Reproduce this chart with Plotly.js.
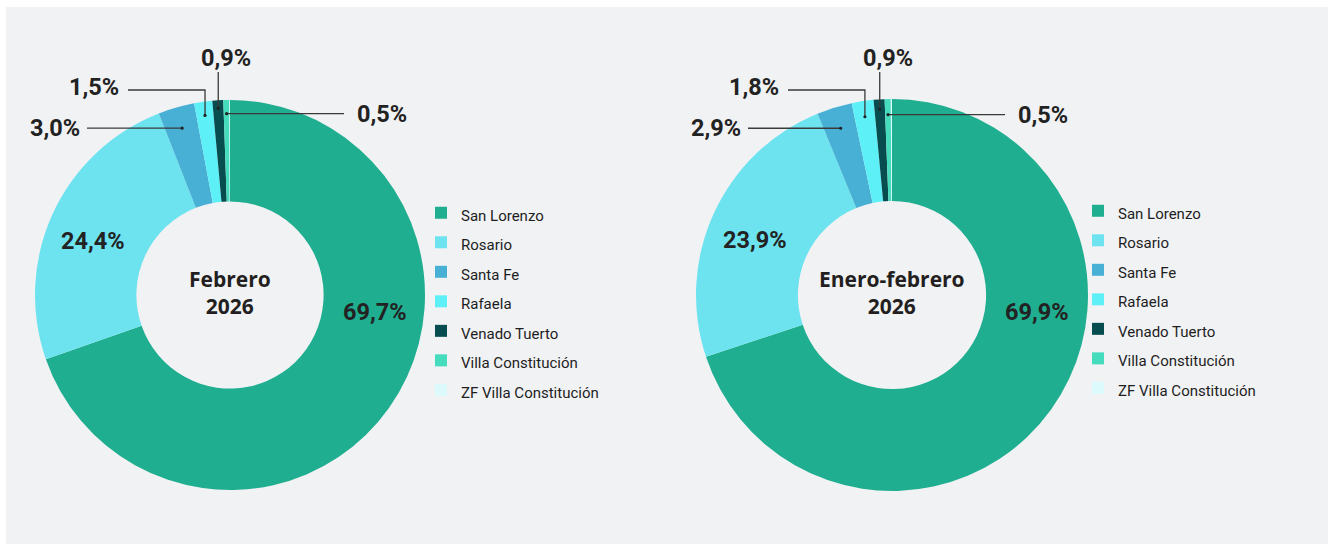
<!DOCTYPE html>
<html>
<head>
<meta charset="utf-8">
<script src="https://cdn.plot.ly/plotly-3.0.1.min.js"></script>
<style>
  html, body { margin: 0; padding: 0; background: #ffffff; }
  #chart { width: 1328px; height: 544px; }
</style>
</head>
<body>
<div id="chart"></div>
<script>
// datos
var categorias = ["San Lorenzo", "Rosario", "Santa Fe", "Rafaela", "Venado Tuerto", "Villa Constitución", "ZF Villa Constitución"];
var colores = ["#1fae8f", "#6de3ef", "#48b0d5", "#5ef0f7", "#074d50", "#45dbbd", "#dcfafc"];
var febrero = [69.7, 24.4, 3.0, 1.5, 0.9, 0.5, 0.05];
var eneroFebrero = [69.9, 23.9, 2.9, 1.8, 0.9, 0.5, 0.1];
var titulos = ["Febrero<br>2026", "Enero-febrero<br>2026"];

var W = 1328, H = 544;
function px(x) { return x / W; }
function py(y) { return 1 - y / H; }
function fmt(v) { return v.toFixed(1).replace(".", ",") + "%"; }

// posicion de cada torta (pixeles)
var tortas = [
  { cx: 230, cy: 295, r: 195, valores: febrero, letra: "15px",
    adentro: [[375, 312], [93, 241]],
    guias: [
      { i: 2, rf: 0.89, tipo: "izq", finX: 87 },
      { i: 3, rf: 0.93, tipo: "arribaIzq", codoY: 90, finX: 128 },
      { i: 4, rf: 0.96, tipo: "arriba", finY: 72 },
      { i: 5, rf: 0.93, tipo: "der", finX: 344 }
    ] },
  { cx: 892, cy: 295, r: 196, valores: eneroFebrero, letra: "15.01px",
    adentro: [[1037, 312], [755, 240]],
    guias: [
      { i: 2, rf: 0.89, tipo: "izq", finX: 748 },
      { i: 3, rf: 0.92, tipo: "arribaIzq", codoY: 90, finX: 788 },
      { i: 4, rf: 0.95, tipo: "arriba", finY: 72 },
      { i: 5, rf: 0.92, tipo: "der", finX: 1005 }
    ] }
];

function anguloMedio(vals, i) {
  var total = vals.reduce(function(a, b) { return a + b; }, 0);
  var antes = 0;
  for (var k = 0; k < i; k++) antes += vals[k];
  return (antes + vals[i] / 2) / total * 2 * Math.PI;
}

var data = [];
var shapes = [{
  type: "rect", xref: "paper", yref: "paper", layer: "below",
  x0: px(6), x1: 1, y0: 0, y1: py(7),
  fillcolor: "#f1f2f4", line: { width: 0 }
}];
var annotations = [];
var fuenteNum = { family: "Roboto, sans-serif", size: 23.5, color: "#222222", weight: 700 };
var colorGuia = "#3a3a3a";

tortas.forEach(function(t, n) {
  data.push({
    type: "pie",
    // etiquetas con estilo distinto por torta para que cada leyenda muestre sus items
    labels: categorias.map(function(c) { return '<span style="font-size:' + t.letra + '">' + c + '</span>'; }),
    values: t.valores,
    marker: { colors: colores, line: { width: 0 } },
    hole: 0.48,
    sort: false,
    direction: "clockwise",
    rotation: 0,
    textinfo: "none",
    hoverinfo: "label+percent",
    domain: { x: [px(t.cx - t.r), px(t.cx + t.r)], y: [py(t.cy + t.r), py(t.cy - t.r)] },
    legend: n === 0 ? "legend" : "legend2"
  });

  // texto central
  annotations.push({
    xref: "paper", yref: "paper", x: px(t.cx), y: py(t.cy - 3),
    text: titulos[n], showarrow: false, xanchor: "center", yanchor: "middle",
    font: { family: "Open Sans, sans-serif", size: 21, color: "#231f20", weight: 700 }
  });

  // porcentajes dentro
  t.adentro.forEach(function(p, i) {
    annotations.push({
      xref: "paper", yref: "paper", x: px(p[0]), y: py(p[1]),
      text: fmt(t.valores[i]), showarrow: false, xanchor: "center", yanchor: "middle",
      font: fuenteNum
    });
  });

  // porcentajes con lineas guia
  t.guias.forEach(function(g) {
    var a = anguloMedio(t.valores, g.i);
    var dx = t.cx + t.r * g.rf * Math.sin(a);
    var dy = t.cy - t.r * g.rf * Math.cos(a);
    var puntos, tx, ty, xa;
    if (g.tipo === "izq") {
      puntos = [[dx, dy], [g.finX, dy]];
      tx = g.finX - 5; ty = dy; xa = "right";
    } else if (g.tipo === "arribaIzq") {
      puntos = [[dx, dy], [dx, g.codoY], [g.finX, g.codoY]];
      tx = g.finX - 7; ty = g.codoY - 3; xa = "right";
    } else if (g.tipo === "arriba") {
      puntos = [[dx, dy], [dx, g.finY]];
      tx = dx + 8; ty = g.finY - 14; xa = "center";
    } else {
      puntos = [[dx, dy], [g.finX, dy]];
      tx = g.finX + 11; ty = dy; xa = "left";
    }
    var path = puntos.map(function(p, k) {
      return (k === 0 ? "M" : "L") + px(p[0]) + "," + py(p[1]);
    }).join(" ");
    shapes.push({ type: "path", xref: "paper", yref: "paper", path: path,
      line: { color: colorGuia, width: 1.3 } });
    shapes.push({ type: "circle", xref: "paper", yref: "paper",
      x0: px(dx - 1.6), x1: px(dx + 1.6), y0: py(dy + 1.6), y1: py(dy - 1.6),
      fillcolor: "#222", line: { width: 0 } });
    annotations.push({
      xref: "paper", yref: "paper", x: px(tx), y: py(ty),
      text: fmt(t.valores[g.i]), showarrow: false, xanchor: xa, yanchor: "middle",
      font: fuenteNum
    });
  });
});

var leyenda = function(x, y) {
  return {
    x: px(x), y: py(y), xanchor: "left", yanchor: "top",
    bgcolor: "rgba(0,0,0,0)", borderwidth: 0,
    font: { family: "Roboto, sans-serif", size: 20.4, color: "#1e1e1e" },
    itemclick: false, itemdoubleclick: false
  };
};

var layout = {
  width: W, height: H,
  margin: { l: 0, r: 0, t: 0, b: 0 },
  paper_bgcolor: "#ffffff",
  plot_bgcolor: "rgba(0,0,0,0)",
  showlegend: true,
  legend: leyenda(421, 193),
  legend2: leyenda(1078, 191),
  shapes: shapes,
  annotations: annotations
};

Plotly.newPlot("chart", data, layout, { displayModeBar: false, staticPlot: true });
</script>
</body>
</html>
